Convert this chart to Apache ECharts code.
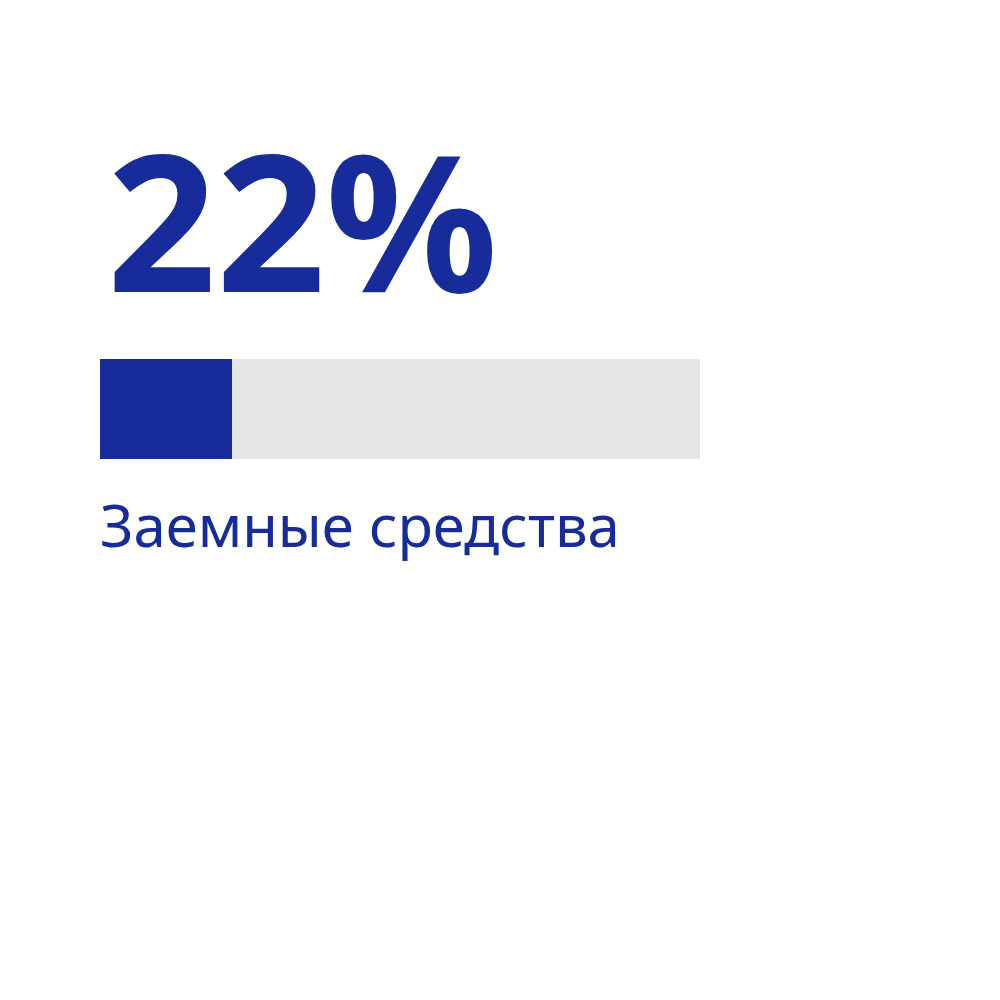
<!DOCTYPE html>
<html><head><meta charset="utf-8">
<script src="https://cdn.jsdelivr.net/npm/echarts@6/dist/echarts.min.js"></script>
<style>html,body{margin:0;padding:0;background:#fff}#c{width:1000px;height:1000px}</style>
</head><body><div id="c"></div>
<script>
const categories = ['Заемные средства'];
const values = [22];
const maxValue = 100;
const valueLabel = values[0] + '%';

const chart = echarts.init(document.getElementById('c'), null, {renderer: 'canvas'});
chart.setOption({
  backgroundColor: '#ffffff',
  animation: false,
  title: [{
    text: valueLabel,
    left: 102, top: 137,
    textStyle: {fontFamily: 'Noto Sans', fontWeight: 'bold', fontSize: 191, color: '#172B9B', lineHeight: 191}
  }, {
    text: categories[0],
    left: 95, top: 491,
    textStyle: {fontFamily: 'Noto Sans', fontWeight: 'normal', fontSize: 58, color: '#172B9B', lineHeight: 68}
  }],
  grid: {left: 100, top: 359, width: 600, height: 100},
  xAxis: {type: 'value', min: 0, max: maxValue, show: false},
  yAxis: {type: 'category', data: categories, show: false},
  series: [{
    type: 'bar',
    data: values,
    barWidth: 100,
    itemStyle: {color: '#172B9B'},
    showBackground: true,
    backgroundStyle: {color: '#E6E6E6'}
  }]
});
</script></body></html>
